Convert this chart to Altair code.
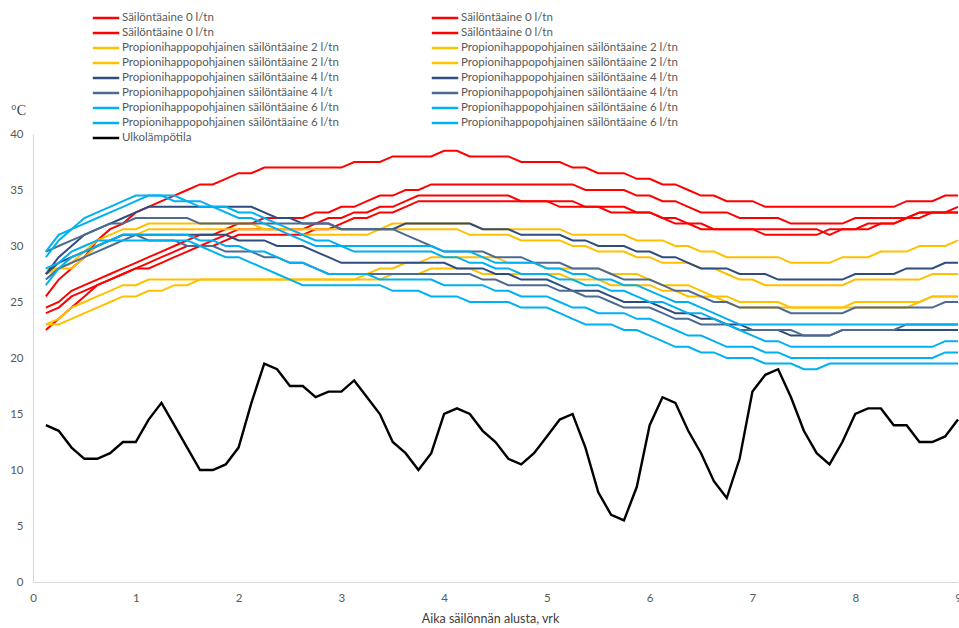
import altair as alt
import pandas as pd

# time axis: one reading every 3 hours (1/8 day), days 0.125 ... 9.0
days = [i / 8 for i in range(1, 73)]

outdoor = [14, 13.5, 12, 11, 11, 11.5, 12.5, 12.5,
           14.5, 16, 14, 12, 10, 10, 10.5, 12,
           16, 19.5, 19, 17.5, 17.5, 16.5, 17, 17,
           18, 16.5, 15, 12.5, 11.5, 10, 11.5, 15,
           15.5, 15, 13.5, 12.5, 11, 10.5, 11.5, 13,
           14.5, 15, 12, 8, 6, 5.5, 8.5, 14,
           16.5, 16, 13.5, 11.5, 9, 7.5, 11, 17,
           18.5, 19, 16.5, 13.5, 11.5, 10.5, 12.5, 15,
           15.5, 15.5, 14, 14, 12.5, 12.5, 13, 14.5]

red_1 = [25.5, 27, 28, 29, 30.5, 31.5, 32, 33,
         33.5, 34, 34.5, 35, 35.5, 35.5, 36, 36.5,
         36.5, 37, 37, 37, 37, 37, 37, 37,
         37.5, 37.5, 37.5, 38, 38, 38, 38, 38.5,
         38.5, 38, 38, 38, 38, 37.5, 37.5, 37.5,
         37.5, 37, 37, 36.5, 36.5, 36.5, 36, 36,
         35.5, 35.5, 35, 34.5, 34.5, 34, 34, 34,
         33.5, 33.5, 33.5, 33.5, 33.5, 33.5, 33.5, 33.5,
         33.5, 33.5, 33.5, 34, 34, 34, 34.5, 34.5]
red_2 = [24.5, 25, 26, 26.5, 27, 27.5, 28, 28.5,
         29, 29.5, 30, 30.5, 31, 31, 31.5, 32,
         32, 32.5, 32.5, 32.5, 32.5, 33, 33, 33.5,
         33.5, 34, 34.5, 34.5, 35, 35, 35.5, 35.5,
         35.5, 35.5, 35.5, 35.5, 35.5, 35.5, 35.5, 35.5,
         35.5, 35.5, 35, 35, 35, 35, 34.5, 34.5,
         34, 34, 33.5, 33, 33, 33, 32.5, 32.5,
         32.5, 32.5, 32, 32, 32, 32, 32, 32.5,
         32.5, 32.5, 32.5, 32.5, 32.5, 33, 33, 33.5]
red_3 = [24, 24.5, 25.5, 26, 26.5, 27, 27.5, 28,
         28.5, 29, 29.5, 30, 30, 30.5, 31, 31.5,
         31.5, 31.5, 31.5, 31.5, 31.5, 32, 32.5, 32.5,
         33, 33, 33.5, 33.5, 34, 34.5, 34.5, 34.5,
         34.5, 34.5, 34.5, 34.5, 34.5, 34, 34, 34,
         33.5, 33.5, 33.5, 33.5, 33, 33, 33, 33,
         32.5, 32, 32, 31.5, 31.5, 31.5, 31.5, 31.5,
         31, 31, 31, 31, 31, 31.5, 31.5, 31.5,
         32, 32, 32, 32.5, 33, 33, 33, 33]
red_4 = [22.5, 23.5, 24.5, 25.5, 26.5, 27, 27.5, 28,
         28, 28.5, 29, 29.5, 30, 30, 30.5, 31,
         31, 31, 31, 31, 31, 31.5, 31.5, 32,
         32.5, 32.5, 33, 33, 33.5, 34, 34, 34,
         34, 34, 34, 34, 34, 34, 34, 34,
         34, 34, 33.5, 33.5, 33.5, 33.5, 33, 33,
         32.5, 32.5, 32, 32, 31.5, 31.5, 31.5, 31.5,
         31.5, 31.5, 31.5, 31.5, 31.5, 31, 31.5, 31.5,
         31.5, 32, 32, 32.5, 33, 33, 33, 33]

yel_1 = [28, 28, 28.5, 29.5, 30.5, 31, 31.5, 31.5,
         32, 32, 32, 32, 32, 32, 32, 32,
         32, 31.5, 31.5, 31.5, 31.5, 31.5, 31.5, 31.5,
         31.5, 31.5, 31.5, 32, 32, 32, 32, 32,
         32, 32, 31.5, 31.5, 31.5, 31.5, 31.5, 31.5,
         31.5, 31, 31, 31, 31, 31, 30.5, 30.5,
         30.5, 30, 30, 29.5, 29.5, 29, 29, 29,
         29, 29, 28.5, 28.5, 28.5, 28.5, 29, 29,
         29, 29.5, 29.5, 29.5, 30, 30, 30, 30.5]
yel_2 = [27.5, 28, 28, 29, 30, 30.5, 31, 31,
         31.5, 31.5, 31.5, 31.5, 31.5, 31.5, 31.5, 31.5,
         31.5, 31.5, 31.5, 31.5, 31, 31, 31, 31,
         31, 31, 31.5, 31.5, 31.5, 31.5, 31.5, 31.5,
         31.5, 31, 31, 31, 31, 30.5, 30.5, 30.5,
         30.5, 30, 30, 29.5, 29.5, 29.5, 29, 29,
         28.5, 28.5, 28.5, 28, 28, 27.5, 27, 27,
         26.5, 26.5, 26.5, 26.5, 26.5, 26.5, 26.5, 27,
         27, 27, 27, 27, 27, 27.5, 27.5, 27.5]
yel_3 = [23, 23.5, 24.5, 25, 25.5, 26, 26.5, 26.5,
         27, 27, 27, 27, 27, 27, 27, 27,
         27, 27, 27, 27, 27, 27, 27, 27,
         27, 27.5, 28, 28, 28.5, 28.5, 29, 29,
         29, 29, 29, 29, 28.5, 28.5, 28.5, 28,
         28, 28, 28, 28, 27.5, 27.5, 27.5, 27,
         26.5, 26.5, 26.5, 26, 25.5, 25.5, 25, 25,
         25, 25, 24.5, 24.5, 24.5, 24.5, 24.5, 25,
         25, 25, 25, 25, 25, 25.5, 25.5, 25.5]
yel_4 = [23, 23, 23.5, 24, 24.5, 25, 25.5, 25.5,
         26, 26, 26.5, 26.5, 27, 27, 27, 27,
         27, 27, 27, 27, 27, 27, 27, 27,
         27, 27, 27, 27.5, 27.5, 27.5, 28, 28,
         28, 28, 27.5, 27.5, 27.5, 27.5, 27.5, 27.5,
         27.5, 27, 27, 27, 26.5, 26.5, 26.5, 26.5,
         26, 26, 25.5, 25.5, 25.5, 25, 24.5, 24.5,
         24.5, 24.5, 24.5, 24.5, 24.5, 24.5, 24.5, 24.5,
         24.5, 24.5, 24.5, 24.5, 25, 25.5, 25.5, 25.5]

navy_1 = [27.5, 29, 30, 31, 31.5, 32, 32.5, 33,
          33.5, 33.5, 33.5, 33.5, 33.5, 33.5, 33.5, 33.5,
          33.5, 33, 32.5, 32.5, 32, 32, 32, 31.5,
          31.5, 31.5, 31.5, 31.5, 32, 32, 32, 32,
          32, 32, 31.5, 31.5, 31.5, 31, 31, 31,
          31, 30.5, 30.5, 30, 30, 30, 29.5, 29.5,
          29, 29, 28.5, 28, 28, 28, 27.5, 27.5,
          27.5, 27, 27, 27, 27, 27, 27, 27.5,
          27.5, 27.5, 27.5, 28, 28, 28, 28.5, 28.5]
navy_2 = [27.5, 28.5, 29, 29.5, 30, 30.5, 31, 31,
          31, 31, 31, 31, 31, 31, 31, 30.5,
          30.5, 30.5, 30, 30, 30, 29.5, 29, 28.5,
          28.5, 28.5, 28.5, 28.5, 28.5, 28.5, 28.5, 28.5,
          28, 28, 28, 27.5, 27.5, 27, 27, 27,
          26.5, 26, 26, 26, 25.5, 25, 25, 25,
          24.5, 24, 24, 23.5, 23.5, 23, 23, 22.5,
          22.5, 22.5, 22, 22, 22, 22, 22.5, 22.5,
          22.5, 22.5, 22.5, 22.5, 22.5, 22.5, 22.5, 22.5]
slate_1 = [29.5, 30, 30.5, 31, 31.5, 32, 32, 32.5,
           32.5, 32.5, 32.5, 32.5, 32, 32, 32, 32,
           32, 32, 32, 32, 32, 32, 32, 31.5,
           31.5, 31.5, 31.5, 31.5, 31, 30.5, 30, 29.5,
           29.5, 29.5, 29.5, 29, 29, 29, 28.5, 28.5,
           28.5, 28, 28, 28, 27.5, 27, 27, 27,
           26.5, 26, 26, 25.5, 25, 25, 24.5, 24.5,
           24.5, 24.5, 24, 24, 24, 24, 24, 24.5,
           24.5, 24.5, 24.5, 24.5, 24.5, 24.5, 25, 25]
slate_2 = [27, 28, 28.5, 29, 29.5, 30, 30.5, 31,
           30.5, 30.5, 30.5, 30, 30, 30, 29.5, 29.5,
           29.5, 29, 29, 28.5, 28.5, 28, 27.5, 27.5,
           27.5, 27.5, 27.5, 27.5, 27.5, 27.5, 27.5, 27.5,
           27.5, 27.5, 27, 27, 26.5, 26.5, 26.5, 26.5,
           26, 26, 25.5, 25.5, 25, 24.5, 24.5, 24.5,
           24, 23.5, 23.5, 23, 23, 23, 22.5, 22.5,
           22.5, 22.5, 22.5, 22, 22, 22, 22.5, 22.5,
           22.5, 22.5, 22.5, 23, 23, 23, 23, 23]

light_1 = [29.5, 31, 31.5, 32.5, 33, 33.5, 34, 34.5,
           34.5, 34.5, 34.5, 34, 34, 33.5, 33.5, 33,
           33, 32.5, 32, 31.5, 31, 30.5, 30.5, 30,
           30, 30, 30, 30, 30, 30, 30, 29.5,
           29.5, 29.5, 29, 28.5, 28.5, 28.5, 28.5, 28,
           28, 27.5, 27.5, 27, 27, 26.5, 26.5, 26,
           25.5, 25, 25, 24.5, 24, 23.5, 23, 23,
           23, 23, 23, 23, 23, 23, 23, 23,
           23, 23, 23, 23, 23, 23, 23, 23]
light_2 = [29, 30.5, 31.5, 32, 32.5, 33, 33.5, 34,
           34.5, 34.5, 34, 34, 33.5, 33.5, 33, 32.5,
           32.5, 32, 31.5, 31, 30.5, 30, 30, 30,
           29.5, 29.5, 29.5, 29.5, 29.5, 29.5, 29.5, 29,
           29, 28.5, 28.5, 28, 28, 27.5, 27.5, 27.5,
           27, 27, 26.5, 26.5, 26, 26, 25.5, 25,
           25, 24.5, 24, 24, 23.5, 23, 22.5, 22,
           21.5, 21.5, 21, 21, 21, 21, 21, 21,
           21, 21, 21, 21, 21, 21, 21.5, 21.5]
light_3 = [28, 28.5, 29.5, 30, 30.5, 30.5, 31, 31,
           31, 31, 31, 31, 30.5, 30.5, 30, 30,
           29.5, 29.5, 29, 28.5, 28.5, 28, 27.5, 27.5,
           27.5, 27.5, 27, 27, 27, 27, 27, 26.5,
           26.5, 26.5, 26.5, 26, 26, 25.5, 25.5, 25.5,
           25, 24.5, 24.5, 24, 24, 24, 23.5, 23.5,
           23, 22.5, 22, 22, 21.5, 21, 21, 21,
           20.5, 20.5, 20, 20, 20, 20, 20, 20,
           20, 20, 20, 20, 20, 20, 20.5, 20.5]
light_4 = [26.5, 28, 29, 29.5, 30, 30.5, 30.5, 30.5,
           30.5, 30.5, 30.5, 30.5, 30, 29.5, 29, 29,
           28.5, 28, 27.5, 27, 26.5, 26.5, 26.5, 26.5,
           26.5, 26.5, 26.5, 26, 26, 26, 25.5, 25.5,
           25.5, 25, 25, 25, 25, 24.5, 24.5, 24.5,
           24, 23.5, 23, 23, 23, 22.5, 22.5, 22,
           21.5, 21, 21, 20.5, 20.5, 20, 20, 20,
           19.5, 19.5, 19.5, 19, 19, 19.5, 19.5, 19.5,
           19.5, 19.5, 19.5, 19.5, 19.5, 19.5, 19.5, 19.5]

RED, YEL, NAVY, SLATE, LIGHT, BLACK = "#FF0000", "#FFC000", "#2E4C7E", "#4C6A92", "#00B0F0", "#000000"
LBL0 = "Säilöntäaine 0 l/tn"
LBL2 = "Propionihappopohjainen säilöntäaine 2 l/tn"
LBL4 = "Propionihappopohjainen säilöntäaine 4 l/tn"
LBL4T = "Propionihappopohjainen säilöntäaine 4 l/t"
LBL6 = "Propionihappopohjainen säilöntäaine 6 l/tn"

series = [
    ("s01", LBL0, RED, red_1), ("s02", LBL0, RED, red_2),
    ("s03", LBL0, RED, red_3), ("s04", LBL0, RED, red_4),
    ("s05", LBL2, YEL, yel_1), ("s06", LBL2, YEL, yel_2),
    ("s07", LBL2, YEL, yel_3), ("s08", LBL2, YEL, yel_4),
    ("s09", LBL4, NAVY, navy_1), ("s10", LBL4, NAVY, navy_2),
    ("s11", LBL4T, SLATE, slate_1), ("s12", LBL4, SLATE, slate_2),
    ("s13", LBL6, LIGHT, light_1), ("s14", LBL6, LIGHT, light_2),
    ("s15", LBL6, LIGHT, light_3), ("s16", LBL6, LIGHT, light_4),
    ("s17", "Ulkolämpötila", BLACK, outdoor),
]

rows = []
for key, label, color, vals in series:
    w = 2.4 if color == BLACK else 2.0
    for d, v in zip(days, vals):
        rows.append({"key": key, "day": d, "temp": v, "color": color, "w": w})
df = pd.DataFrame(rows)

leg = pd.DataFrame([
    {"key": key, "label": label, "color": color, "row": i // 2, "col": i % 2}
    for i, (key, label, color, _) in enumerate(series)
])

FONT = "Lato"

lines = alt.Chart(df).mark_line().encode(
    x=alt.X("day:Q", scale=alt.Scale(domain=[0, 9], nice=False, zero=True),
            axis=alt.Axis(values=list(range(10)), title="Aika säilönnän alusta, vrk",
                          labelFlush=False, labelPadding=10, titlePadding=9, titleX=457,
                          titleFont=FONT, titleFontSize=12.5, titleFontWeight="normal",
                          titleColor="#404040")),
    y=alt.Y("temp:Q", scale=alt.Scale(domain=[0, 40], nice=False),
            axis=alt.Axis(values=[0, 5, 10, 15, 20, 25, 30, 35, 40], title="°C",
                          labelPadding=10, titleAngle=0, titleX=-15, titleY=-24,
                          titleAlign="center", titleBaseline="middle",
                          titleFont="Liberation Serif", titleFontSize=14,
                          titleFontWeight="normal", titleColor="#404040")),
    color=alt.Color("color:N", scale=None),
    strokeWidth=alt.StrokeWidth("w:Q", scale=None),
    detail="key:N",
)

leg_x = alt.X("col:Q", scale=alt.Scale(domain=[0, 1], range=[73, 412]), axis=None)
leg_y = alt.Y("row:Q", scale=alt.Scale(domain=[0, 8], range=[-116, 4]), axis=None)

leg_sym = alt.Chart(leg).mark_point(shape="stroke", size=700, strokeWidth=2.5,
                                    filled=False, opacity=1).encode(
    x=leg_x, y=leg_y, color=alt.Color("color:N", scale=None))
leg_txt = alt.Chart(leg).mark_text(align="left", baseline="middle", dx=16,
                                   font=FONT, fontSize=11.5, color="#595959").encode(
    x=leg_x, y=leg_y, text="label:N")

chart = alt.layer(lines, leg_sym, leg_txt).resolve_scale(
    x="independent", y="independent"
).properties(
    width=925, height=448,
    autosize=alt.AutoSizeParams(type="none"),
    padding={"left": 33, "top": 134, "right": 1, "bottom": 46},
).configure_axis(
    labelFont=FONT, labelFontSize=11.5, labelColor="#595959",
    domainColor="#D9D9D9", domainWidth=1, ticks=False, grid=False,
).configure_view(stroke=None)

chart.save("out.html", embed_options={"renderer": "svg", "actions": False})
